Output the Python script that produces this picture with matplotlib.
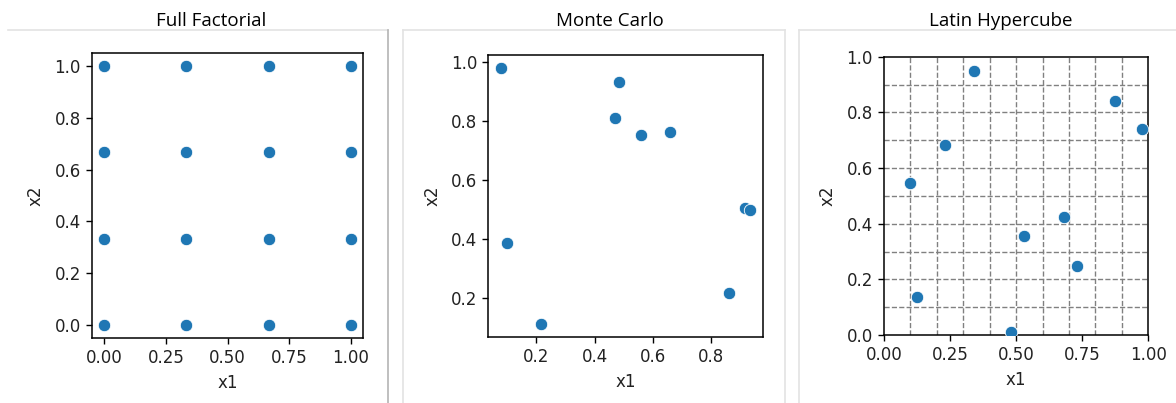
import numpy as np
import matplotlib
matplotlib.use("Agg")
import matplotlib.pyplot as plt
from matplotlib.lines import Line2D
from matplotlib.ticker import FormatStrFormatter

plt.rcParams["font.family"] = ["DejaVu Sans"]

# ---- sample designs -------------------------------------------------------
levels = [0.0, 1 / 3, 2 / 3, 1.0]
ff_x1 = [x for x in levels for _ in levels]
ff_x2 = [y for _ in levels for y in levels]

mc_x1 = [0.077, 0.484, 0.471, 0.559, 0.661, 0.918, 0.936, 0.099, 0.864, 0.214]
mc_x2 = [0.980, 0.930, 0.810, 0.751, 0.763, 0.507, 0.498, 0.387, 0.220, 0.114]

lhs_x1 = [0.342, 0.874, 0.975, 0.232, 0.098, 0.682, 0.528, 0.730, 0.126, 0.482]
lhs_x2 = [0.950, 0.841, 0.740, 0.683, 0.546, 0.423, 0.356, 0.248, 0.135, 0.010]
lhs_bins = [0.1, 0.2, 0.3, 0.4, 0.5, 0.6, 0.7, 0.8, 0.9]

unit_ticks = [0.0, 0.25, 0.5, 0.75, 1.0]
titles = ["Full Factorial", "Monte Carlo", "Latin Hypercube"]

# ---- figure ---------------------------------------------------------------
W, H = 1176, 403
fig = plt.figure(figsize=(W / 100, H / 100), dpi=100)
fig.patch.set_facecolor("white")


def px_axes(x0, y0, x1, y1):
    return fig.add_axes([x0 / W, 1 - y1 / H, (x1 - x0) / W, (y1 - y0) / H])


def px_line(xs, ys, color, lw=1.2):
    fig.add_artist(Line2D([x / W for x in xs], [1 - y / H for y in ys],
                          transform=fig.transFigure, color=color, lw=lw))


# panel frames
light = "#e3e3e3"
px_line([8, 388], [30.3, 30.3], light)
px_line([388.3, 388.3], [30.3, H], "#b4b4b4")
px_line([403.3, 785.3], [30.3, 30.3], light)
px_line([403.3, 403.3], [30.3, H], light)
px_line([785.3, 785.3], [30.3, H], light)
px_line([799.3, W], [30.3, 30.3], light)
px_line([799.3, 799.3], [30.3, H], light)

# panel titles
title_font = dict(family=["Open Sans", "DejaVu Sans"], fontsize=13.5,
                  ha="center", va="center", color="black")
for cx, t in zip([211, 610, 1001], titles):
    fig.text(cx / W, 1 - 21 / H, t, **title_font)

axes = [
    px_axes(92, 53, 363, 338),
    px_axes(488.3, 54.7, 762.7, 336.7),
    px_axes(884, 56.7, 1148.3, 335),
]

dot = dict(s=80, color="#1f77b4", edgecolor="white", linewidth=0.6, zorder=3)

axes[0].scatter(ff_x1, ff_x2, **dot)
axes[0].set_xticks(unit_ticks)
axes[0].xaxis.set_major_formatter(FormatStrFormatter("%.2f"))

axes[1].scatter(mc_x1, mc_x2, **dot)

ax = axes[2]
for b in lhs_bins:
    ax.axvline(b, color="gray", linestyle="--", lw=1.0, zorder=1)
    ax.axhline(b, color="gray", linestyle="--", lw=1.0, zorder=1)
ax.scatter(lhs_x1, lhs_x2, **dot)
ax.set_xlim(0, 1)
ax.set_ylim(0, 1)
ax.set_xticks(unit_ticks)
ax.xaxis.set_major_formatter(FormatStrFormatter("%.2f"))

for ax in axes:
    ax.set_xlabel("x1", fontsize=12, color="#222222", labelpad=5)
    ax.set_ylabel("x2", fontsize=12, color="#222222", labelpad=7)
    ax.tick_params(labelsize=12, length=4.5, width=1.0, labelcolor="#222222")
    for s in ax.spines.values():
        s.set_linewidth(1.1)

fig.savefig("out.png", dpi=100, facecolor="white")
